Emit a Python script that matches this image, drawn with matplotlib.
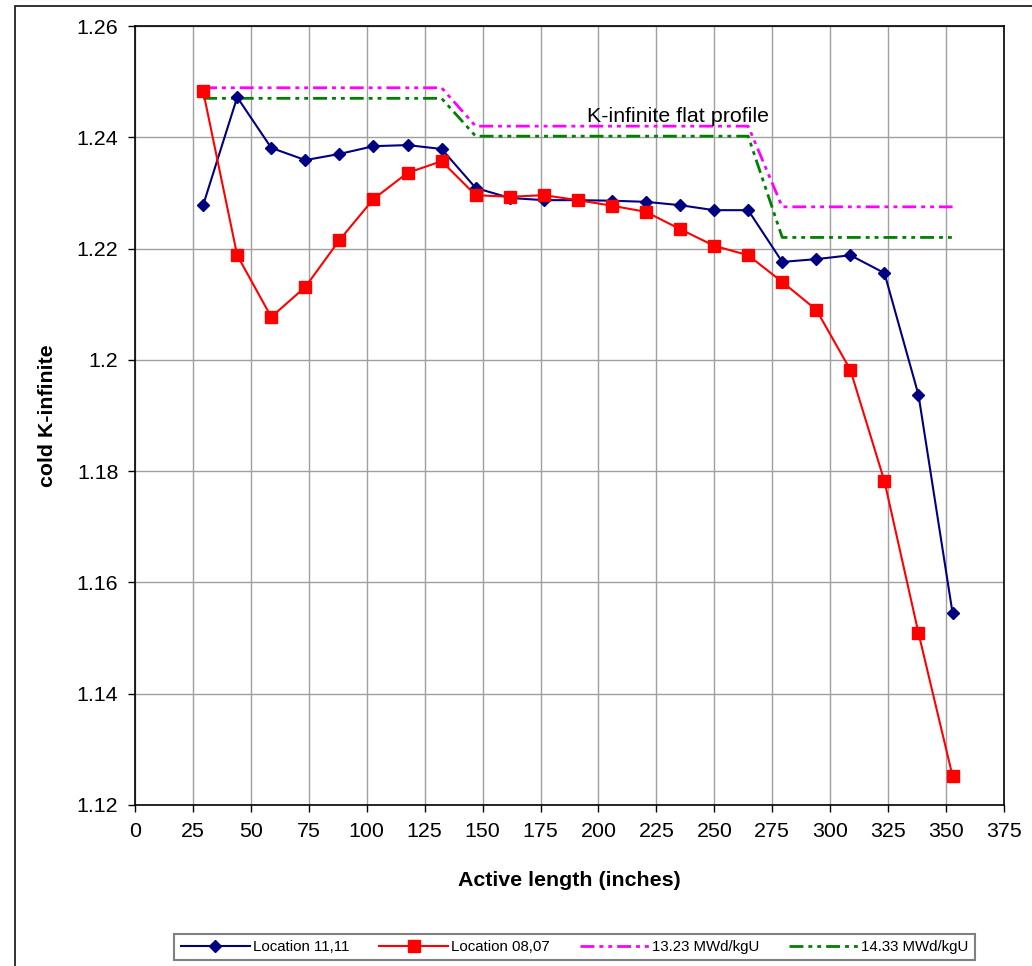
import numpy as np
import matplotlib
matplotlib.use("Agg")
import matplotlib.pyplot as plt
from matplotlib.patches import Rectangle

plt.rcParams['font.family'] = ['Liberation Sans', 'DejaVu Sans']

# axial node positions (inches)
x_nodes = [29.4, 44.1, 58.8, 73.5, 88.2, 102.9, 117.6, 132.3, 147.0, 161.7,
           176.4, 191.1, 205.8, 220.5, 235.2, 249.9, 264.6, 279.3, 294.0,
           308.7, 323.4, 338.1, 352.8]

loc_11_11 = [1.2278, 1.2472, 1.2381, 1.2359, 1.2370, 1.2384, 1.2386, 1.2379,
             1.2309, 1.2291, 1.2287, 1.2287, 1.2286, 1.2284, 1.2278, 1.2269,
             1.2269, 1.2176, 1.2181, 1.2188, 1.2156, 1.1937, 1.1545]

loc_08_07 = [1.2483, 1.2188, 1.2077, 1.2131, 1.2215, 1.2289, 1.2336, 1.2357,
             1.2296, 1.2293, 1.2296, 1.2287, 1.2277, 1.2266, 1.2235, 1.2205,
             1.2188, 1.2140, 1.2090, 1.1982, 1.1782, 1.1509, 1.1252]

# flat profile steps
x_flat = [29.4, 132.3, 147.0, 264.6, 279.3, 352.8]
flat_1323 = [1.2489, 1.2489, 1.2420, 1.2420, 1.2275, 1.2275]
flat_1433 = [1.2470, 1.2470, 1.2402, 1.2402, 1.2220, 1.2220]

x_ticks = list(range(0, 376, 25))
y_ticks = [1.12, 1.14, 1.16, 1.18, 1.20, 1.22, 1.24, 1.26]
y_tick_labels = ['1.12', '1.14', '1.16', '1.18', '1.2', '1.22', '1.24', '1.26']

W, H = 1032, 966
fig = plt.figure(figsize=(W / 100, H / 100), dpi=100)
ax = fig.add_axes([135 / W, 1 - 805 / H, (1004 - 135) / W, (805 - 26) / H])

# outer chart frame
fig.patches.append(Rectangle((15 / W, -0.1), 1.2, 1.1 - 6 / H,
                             transform=fig.transFigure, fill=False,
                             edgecolor='#222222', lw=1.3))

dashdotdot = (5, 1.8, 1.4, 1.8, 1.4, 1.8)

ax.plot(x_nodes, loc_11_11, color='#000080', lw=1.5, marker='D', ms=6.3,
        label='Location 11,11', zorder=3)
ax.plot(x_nodes, loc_08_07, color='#FF0000', lw=1.5, marker='s', ms=8.5,
        label='Location 08,07', zorder=4)
ax.plot(x_flat, flat_1323, color='#FF00FF', lw=2.0, dashes=dashdotdot,
        label='13.23 MWd/kgU', zorder=2)
ax.plot(x_flat, flat_1433, color='#008000', lw=2.0, dashes=dashdotdot,
        label='14.33 MWd/kgU', zorder=2)

ax.text(195, 1.2438, 'K-infinite flat profile', fontsize=15.4, va='center')

ax.set_xlim(0, 375)
ax.set_ylim(1.12, 1.26)
ax.set_xticks(x_ticks)
ax.set_yticks(y_ticks)
ax.set_yticklabels(y_tick_labels)
ax.tick_params(labelsize=15.4, direction='out', length=5, width=1, pad=7)
ax.grid(True, color='#a0a0a0', lw=1)
ax.set_axisbelow(True)
for s in ax.spines.values():
    s.set_linewidth(1.2)

ax.set_xlabel('Active length (inches)', fontsize=15.4, fontweight='bold')
ax.xaxis.label.set_va('center')
ax.xaxis.set_label_coords(0.5, (805 - 880) / 779)
ax.set_ylabel('cold K-infinite', fontsize=15.4, fontweight='bold')
ax.yaxis.label.set_va('center')
ax.yaxis.set_label_coords((48 - 135) / 869, 0.5)

leg = fig.legend(loc='center', ncol=4, fontsize=10.8,
                 bbox_to_anchor=(574.5 / W, 1 - 947 / H),
                 fancybox=False, framealpha=1, edgecolor='#808080',
                 handlelength=4.6, columnspacing=2.0, handletextpad=0.2,
                 borderpad=0.42, borderaxespad=0)
leg.get_frame().set_linewidth(1.5)

fig.savefig('out.png', dpi=100)
